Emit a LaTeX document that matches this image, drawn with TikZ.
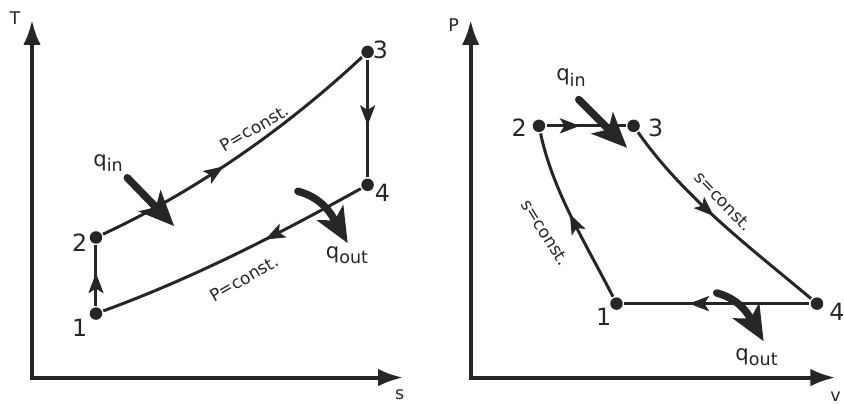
\documentclass[tikz,border=0pt]{standalone}
\usepackage{fontspec}
\setmainfont{DejaVu Sans}
\usetikzlibrary{arrows.meta,decorations.markings}
\newcommand{\qlow}[1]{\raisebox{-0.45ex}{\fontsize{7}{8}\selectfont #1}}

\begin{document}
\begin{tikzpicture}[line width=1.2pt,color=black!85,
 ax/.style={line width=1.6pt,{Latex[length=10pt,width=7pt]}-{Latex[length=10pt,width=7pt]}},
 pt/.style={circle,fill,inner sep=0pt,minimum size=5pt},
 num/.style={font=\fontsize{9.5}{11}\selectfont,inner sep=1pt},
 axl/.style={font=\fontsize{7}{8}\selectfont,inner sep=0pt},
 cst/.style={font=\fontsize{6.8}{8}\selectfont,inner sep=1pt},
 ql/.style={font=\fontsize{8.5}{10}\selectfont,inner sep=0pt},
 heat/.style={line width=3pt,line cap=round,-{Stealth[length=14pt,width=12pt,inset=3.5pt]}},
 fl/.style={postaction={decorate,decoration={markings,
   mark=at position #1 with {\arrow{Stealth[length=8pt,width=6pt,inset=1.8pt]}}}}},
 crv/.style={looseness=0.85}]
\useasboundingbox (0,0) rectangle (11.87,5.69);
% T-s diagram
\coordinate (oL) at (0.45,0.38);
\coordinate (tT) at (0.45,5.41);
\coordinate (tS) at (5.67,0.38);
\draw[ax] (tT) -- (oL) -- (tS);
\node[axl] (labT) at (0.21,5.44) {T};
\node[axl] (labS) at (5.62,0.14) {s};
\node[pt] (L1) at (1.35,1.28) {};
\node[pt] (L2) at (1.35,2.35) {};
\node[pt] (L3) at (5.17,4.96) {};
\node[pt] (L4) at (5.17,3.09) {};
\node[num] (n1) at (1.12,1.08) {1};
\node[num] (n2) at (1.12,2.28) {2};
\node[num] (n3) at (5.35,4.99) {3};
\node[num] (n4) at (5.38,2.98) {4};
\draw[fl=0.54] (L1) -- (L2);
\draw[fl=0.44,crv] (L2) to[out=25,in=223] (L3);
\draw[fl=0.56] (L3) -- (L4);
\draw[fl=0.38,crv] (L4) to[out=209,in=20] (L1);
\node[cst,rotate=30] (pc1) at (3.58,3.89) {P=const.};
\node[cst,rotate=30] (pc2) at (3.43,1.77) {P=const.};
\coordinate (qiL0) at (1.79,3.19);
\coordinate (qiL) at (2.45,2.51);
\draw[heat] (qiL0) -- (qiL);
\node[ql] (qinL) at (1.52,3.40) {q\qlow{in}};
\coordinate (qoL0) at (4.19,3.00);
\coordinate (qoL) at (4.89,2.27);
\draw[heat] (qoL0) to[out=-15,in=120] (qoL);
\node[ql] (qoutL) at (4.88,2.10) {q\qlow{out}};
% P-v diagram
\coordinate (oR) at (6.62,0.38);
\coordinate (tP) at (6.62,5.41);
\coordinate (tV) at (11.75,0.38);
\draw[ax] (tP) -- (oR) -- (tV);
\node[axl] (labP) at (6.38,5.34) {P};
\node[axl] (labV) at (11.75,0.11) {v};
\node[pt] (R1) at (8.67,1.42) {};
\node[pt] (R2) at (7.58,3.92) {};
\node[pt] (R3) at (8.91,3.92) {};
\node[pt] (R4) at (11.49,1.42) {};
\node[num] (m1) at (8.49,1.24) {1};
\node[num] (m2) at (7.30,3.89) {2};
\node[num] (m3) at (9.22,3.89) {3};
\node[num] (m4) at (11.77,1.31) {4};
\draw[fl=0.52,crv] (R1) to[out=117,in=-78] (R2);
\draw[fl=0.42] (R2) -- (R3);
\draw[fl=0.47,crv] (R3) to[out=-55,in=140] (R4);
\draw[fl=0.65] (R4) -- (R1);
\node[cst,rotate=-46] (sc1) at (10.17,2.86) {s=const.};
\node[cst,rotate=-58] (sc2) at (7.67,2.42) {s=const.};
\coordinate (qiR0) at (8.14,4.29);
\coordinate (qiR) at (8.82,3.61);
\draw[heat] (qiR0) -- (qiR);
\node[ql] (qinR) at (8.03,4.60) {q\qlow{in}};
\coordinate (qoR0) at (10.08,1.57);
\coordinate (qoR) at (10.74,0.89);
\draw[heat] (qoR0) to[out=-15,in=120] (qoR);
\node[ql] (qoutR) at (10.64,0.67) {q\qlow{out}};
\end{tikzpicture}
\end{document}
